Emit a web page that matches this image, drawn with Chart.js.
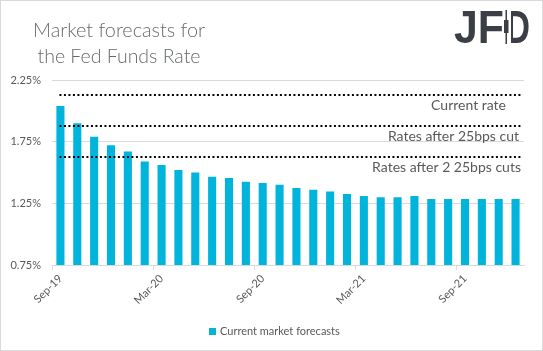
<!DOCTYPE html>
<html>
<head>
<meta charset="utf-8">
<script src="https://cdn.jsdelivr.net/npm/chart.js@4.4.1/dist/chart.umd.min.js"></script>
<style>
  html, body { margin: 0; padding: 0; background: #ffffff; }
  #wrap { position: relative; width: 541px; height: 349px; border: 1px solid #d9d9d9; }
  canvas { display: block; }
</style>
</head>
<body>
<div id="wrap"><canvas id="c" width="541" height="349"></canvas></div>
<script>
// ---- data ----
const categories = ["Sep-19","Oct-19","Nov-19","Dec-19","Jan-20","Feb-20","Mar-20","Apr-20","May-20","Jun-20",
  "Jul-20","Aug-20","Sep-20","Oct-20","Nov-20","Dec-20","Jan-21","Feb-21","Mar-21","Apr-21",
  "May-21","Jun-21","Jul-21","Aug-21","Sep-21","Oct-21","Nov-21","Dec-21"];
const forecasts = [2.04, 1.90, 1.79, 1.72, 1.67, 1.59, 1.56, 1.52, 1.50, 1.465,
  1.455, 1.425, 1.415, 1.40, 1.375, 1.36, 1.345, 1.325, 1.31, 1.30,
  1.30, 1.31, 1.285, 1.285, 1.285, 1.285, 1.285, 1.285];
const refLevels = [2.125, 1.875, 1.625];
const refLabels = ["Current rate", "Rates after 25bps cut", "Rates after 2 25bps cuts"];
const yTicks = [0.75, 1.25, 1.75, 2.25];
const seriesName = "Current market forecasts";
const titleLines = ["Market forecasts for", "the Fed Funds Rate"];
const logoText = "JFD";

const GRAY = "#595959";
const BAR = "#00b4dc";

const decor = {
  id: "decor",
  afterDatasetsDraw(chart) {
    const ctx = chart.ctx;
    const xs = chart.scales.x, ys = chart.scales.y;
    ctx.save();
    const x0 = xs.getPixelForValue(0) - 1;
    const x1 = xs.getPixelForValue(categories.length - 1) + 5;
    const labelRight = [505, 518, 520];
    ctx.strokeStyle = "#000000";
    ctx.lineWidth = 2;
    ctx.setLineDash([2, 2.5]);
    refLevels.forEach((v) => {
      const y = Math.round(ys.getPixelForValue(v));
      ctx.beginPath();
      ctx.moveTo(x0, y);
      ctx.lineTo(x1, y);
      ctx.stroke();
    });
    ctx.setLineDash([]);
    ctx.fillStyle = GRAY;
    ctx.font = '14px Lato';
    ctx.textAlign = "right";
    ctx.textBaseline = "middle";
    refLevels.forEach((v, i) => {
      const y = ys.getPixelForValue(v);
      ctx.fillText(refLabels[i], labelRight[i], y + 10);
    });
    ctx.restore();
  },
  afterDraw(chart) {
    const ctx = chart.ctx;
    ctx.save();
    // title
    ctx.fillStyle = "#666a6e";
    ctx.font = '300 20px Lato';
    ctx.textAlign = "center";
    ctx.textBaseline = "alphabetic";
    ctx.fillText(titleLines[0], 118, 36, 172);
    ctx.fillText(titleLines[1], 118, 62, 163);
    // logo
    ctx.fillStyle = "#3a3f45";
    ctx.font = 'bold 47px "Liberation Sans"';
    ctx.textAlign = "left";
    ctx.fillText(logoText.slice(0, 2), 453, 42, 50);
    ctx.fillText(logoText.slice(2), 505, 42, 24);
    ctx.fillStyle = "#ffffff";
    ctx.fillRect(503, 8, 7, 36);
    ctx.fillStyle = "#3a3f45";
    ctx.fillRect(504.5, 9, 1.5, 34);
    ctx.fillRect(503, 19, 4.5, 13);
    // legend
    const ds = chart.data.datasets[0];
    ctx.fillStyle = ds.backgroundColor;
    ctx.fillRect(208, 327, 7, 7);
    ctx.fillStyle = GRAY;
    ctx.font = '11px Lato';
    ctx.textBaseline = "middle";
    ctx.fillText(ds.label, 219, 330.5);
    ctx.restore();
  }
};

new Chart(document.getElementById("c"), {
  type: "bar",
  data: {
    labels: categories,
    datasets: [{
      label: seriesName,
      data: forecasts,
      backgroundColor: BAR,
      borderWidth: 0,
      barPercentage: 0.96,
      categoryPercentage: 0.5
    }]
  },
  options: {
    responsive: false,
    animation: false,
    layout: { padding: { left: 0, right: 18, top: 79, bottom: 33 } },
    plugins: {
      title: { display: false },
      tooltip: { enabled: false },
      legend: { display: false }
    },
    scales: {
      x: {
        offset: true,
        grid: {
          offset: true,
          drawOnChartArea: false,
          drawTicks: true,
          tickLength: 5,
          color: (c) => (c.index % 6 === 0 ? "#d9d9d9" : "rgba(0,0,0,0)")
        },
        border: { display: true, color: "#d9d9d9" },
        ticks: {
          autoSkip: false,
          maxRotation: 45,
          minRotation: 45,
          color: GRAY,
          font: { family: "Lato", size: 11 },
          padding: 2,
          callback: (v, i) => (i % 6 === 0 ? categories[i] : "")
        },
        afterFit: (s) => { s.height = 52; }
      },
      y: {
        min: 0.75,
        max: 2.25,
        afterBuildTicks: (s) => { s.ticks = yTicks.map(v => ({ value: v })); },
        grid: { color: "#d9d9d9", drawTicks: false },
        border: { display: false },
        ticks: {
          color: GRAY,
          font: { family: "Lato", size: 11 },
          padding: 11,
          callback: (v) => v.toFixed(2) + "%"
        },
        afterFit: (s) => { s.width = 51; }
      }
    }
  },
  plugins: [decor]
});
</script>
</body>
</html>
